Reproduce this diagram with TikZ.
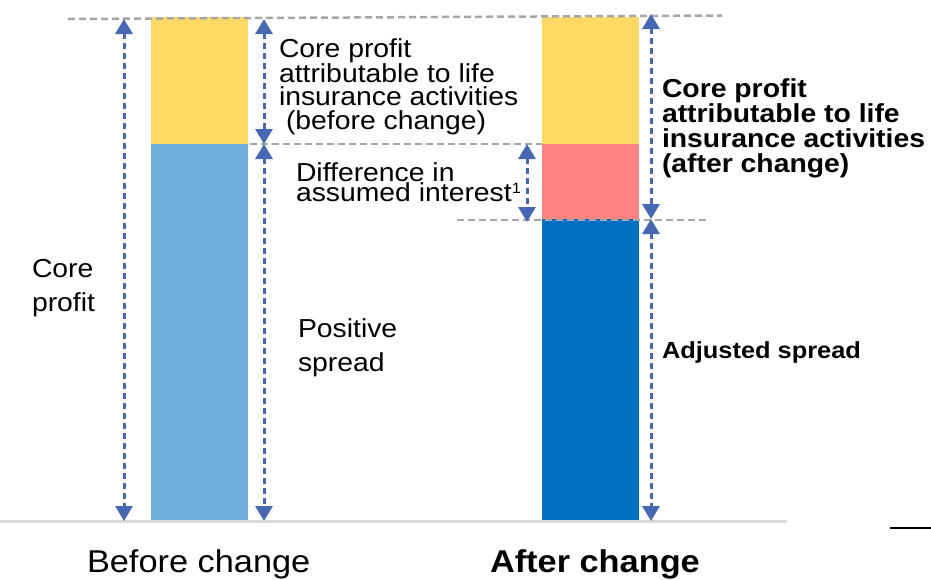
\documentclass[tikz,border=0pt]{standalone}
\usepackage{fontspec}
\setmainfont[FakeStretch=1.09]{Liberation Sans}
\usetikzlibrary{arrows.meta}
\definecolor{baryellow}{HTML}{FFD966}
\definecolor{barlight}{HTML}{70AFDC}
\definecolor{barpink}{HTML}{FF8383}
\definecolor{bardark}{HTML}{0070C0}
\definecolor{arrblue}{HTML}{4867B2}
\definecolor{guidegray}{HTML}{A6A6A6}
\definecolor{groundgray}{HTML}{D9D9D9}
\tikzset{
  barpart/.style={draw=none, inner sep=0pt, outer sep=0pt, minimum width=97pt},
  measure/.style={arrblue, line width=3pt, dash pattern=on 6pt off 4pt,
    {Triangle[length=15pt,width=17pt]}-{Triangle[length=15pt,width=17pt]}},
  guide/.style={guidegray, line width=2.5pt, dash pattern=on 7pt off 4pt},
  lbl/.style={inner sep=0pt, outer sep=0pt, anchor=base west, align=left,
    font=\fontsize{26}{23.3}\selectfont},
  blbl/.style={lbl, font=\fontsize{26}{25}\selectfont\bfseries},
}
\begin{document}
\begin{tikzpicture}[x=1pt,y=-1pt]
\useasboundingbox (0,0) rectangle (931,579);
% bars
\node[barpart, fill=baryellow, minimum height=127pt, anchor=north west] (byel) at (151,17) {};
\node[barpart, fill=barlight, minimum height=377pt, anchor=north west] (bblue) at (151,144) {};
\node[barpart, fill=baryellow, minimum height=127pt, anchor=north west] (ayel) at (542,17) {};
\node[barpart, fill=barpink, minimum height=75pt, anchor=north west] (apink) at (542,144) {};
\node[barpart, fill=bardark, minimum height=302pt, anchor=north west] (adark) at (542,219) {};
% ground and marks
\coordinate (g1) at (0,521.5);
\coordinate (g2) at (787,521.5);
\draw[groundgray, line width=2.5pt] (g1) -- (g2);
\coordinate (k1) at (890,528);
\coordinate (k2) at (931,528);
\draw[black, line width=2pt] (k1) -- (k2);
% guides
\coordinate (t1) at (68,19);
\coordinate (t2) at (722,15.5);
\draw[guide] (t1) -- (t2);
\coordinate (m1) at (250,144);
\coordinate (m2) at (542,144);
\draw[guide] (m1) -- (m2);
\coordinate (l1) at (457,220);
\coordinate (l2) at (707,220);
\draw[guide] (l1) -- (l2);
% arrow endpoints
\coordinate (a1t) at (124,19);
\coordinate (a1b) at (124,521);
\coordinate (a2t) at (264,19);
\coordinate (a2m) at (264,144);
\coordinate (a2b) at (264,521);
\coordinate (a4t) at (527,144);
\coordinate (a4b) at (527,222);
\coordinate (a5t) at (651,14);
\coordinate (a5m) at (651,219);
\coordinate (a5b) at (651,521);
\draw[measure] (a1t) -- (a1b);
\draw[measure] (a2t) -- (a2m);
\draw[measure] (a2m) -- (a2b);
\draw[measure] (a4t) -- (a4b);
\draw[measure] (a5t) -- (a5m);
\draw[measure] (a5m) -- (a5b);
% labels (anchored at the baseline of the last line)
\node[lbl] (tbefore) at (279,129) {Core profit\\attributable to life\\insurance activities\\\hspace{7pt}(before change)};
\node[lbl, font=\fontsize{26}{19.5}\selectfont] (tdiff) at (296,201) {Difference in\\assumed interest{\fontsize{15}{15}\selectfont\raisebox{8pt}{1}}};
\node[lbl, font=\fontsize{26}{34}\selectfont] (tcore) at (32,311) {Core\\profit};
\node[lbl, font=\fontsize{26}{34}\selectfont] (tpos) at (298,371) {Positive\\spread};
\node[blbl] (tafter) at (662,172) {Core profit\\attributable to life\\insurance activities\\(after change)};
\node[blbl, font=\fontsize{23.3}{25}\selectfont\bfseries] (tadj) at (662,358) {Adjusted spread};
\node[lbl, font=\fontsize{31.5}{34}\selectfont] (cbefore) at (87,572) {Before change};
\node[lbl, font=\fontsize{31.5}{34}\selectfont\bfseries] (cafter) at (490,572) {After change};
\end{tikzpicture}
\end{document}
